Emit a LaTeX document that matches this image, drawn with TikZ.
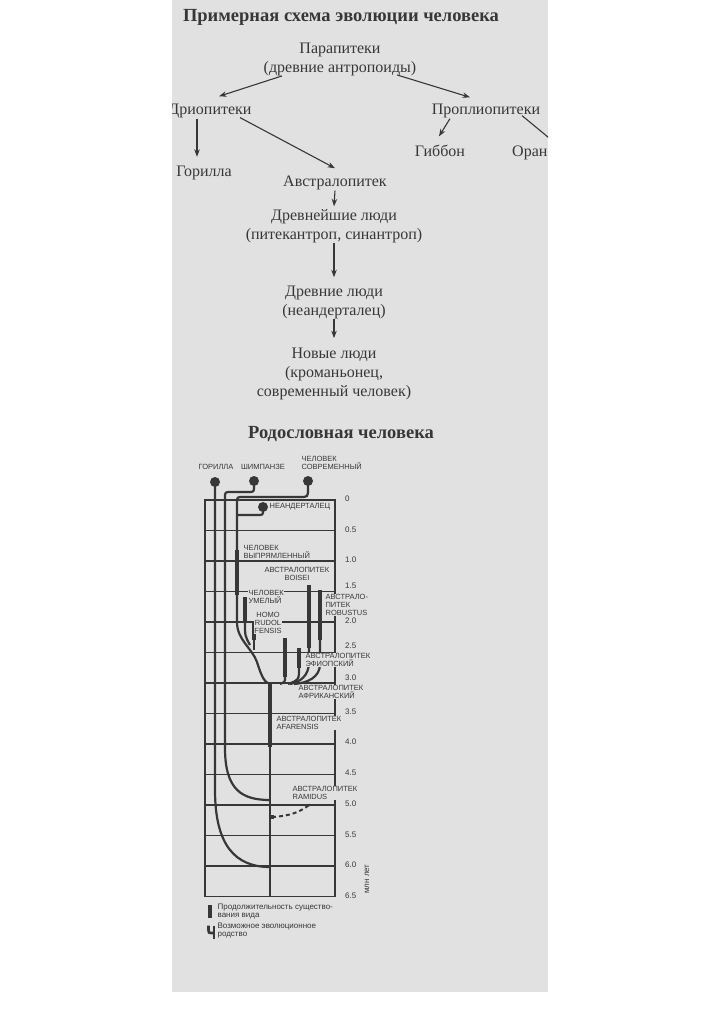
\documentclass[tikz,border=0pt]{standalone}
\usepackage{fontspec}
\setmainfont{Liberation Serif}
\setsansfont{Liberation Sans}
\usetikzlibrary{arrows.meta,positioning,calc}
\definecolor{paper}{RGB}{225,225,225}
\definecolor{ink}{RGB}{55,55,55}
\tikzset{
  arr/.style={draw=ink, line width=1.1pt, -{Stealth[length=7.5pt,width=5.5pt]}},
  txt/.style={text=ink, inner sep=0pt, align=center, font=\fontsize{16}{19}\selectfont},
  ttl/.style={text=ink, inner sep=0pt, anchor=base, font=\fontsize{18.5}{20}\selectfont\bfseries},
  lbl/.style={text=ink, fill=paper, inner sep=0.4pt, align=left, font=\fontsize{7.5}{7.8}\selectfont\sffamily},
  num/.style={text=ink, inner sep=0pt, anchor=west, font=\fontsize{8}{8}\selectfont\sffamily},
  gridline/.style={draw=ink, line width=1.5pt},
  lineage/.style={draw=ink, line width=2.2pt},
  bar/.style={draw=ink, line width=4.6pt},
  dot/.style={circle, fill=ink, minimum size=10pt, inner sep=0pt},
}
\begin{document}
\begin{tikzpicture}[x=1pt,y=-1pt]
  \useasboundingbox (0,0) rectangle (722,1024);
  \fill[white] (0,0) rectangle (722,1024);
  \fill[paper] (172,0) rectangle (548,992);
  \begin{scope}
  \clip (172,0) rectangle (548,992);

  % scheme
  \node[ttl] (title) at (341,22) {Примерная схема эволюции человека};
  \node[txt] (para) at (340,59.3) {Парапитеки\\(древние антропоиды)};
  \node[txt, anchor=base] (drio) at (210,115) {Дриопитеки};
  \node[txt, anchor=base] (propl) at (486,115) {Проплиопитеки};
  \node[txt, anchor=base] (gibbon) at (440,157) {Гиббон};
  \node[txt, anchor=base west] (oran) at (512,157) {Оран};
  \node[txt, anchor=base] (gorilla) at (204,177) {Горилла};
  \node[txt, anchor=base] (austr) at (335,187) {Австралопитек};
  \node[txt] (oldest) at (334,226.2) {Древнейшие люди\\(питекантроп, синантроп)};
  \node[txt] (old) at (334,302.9) {Древние люди\\(неандерталец)};
  \node[txt] (new) at (334,374.3) {Новые люди\\(кроманьонец,\\современный человек)};
  \coordinate (orx) at (560,147);

  \draw[arr] ($(para.south)+(-58,0)$) -- ($(drio.north)+(9,-8)$);
  \draw[arr] ($(para.south)+(57,-1)$) -- ($(propl.north)+(-16,-7)$);
  \draw[arr] ($(drio.south)+(-13,0)$) -- ($(gorilla.north)+(-7,-9.5)$);
  \draw[arr] ($(drio.south)+(30,-1)$) -- ($(austr.north)+(0,-8)$);
  \draw[arr] ($(propl.south)+(-36,0)$) -- ($(gibbon.north)+(-1,-9)$);
  \draw[arr] ($(propl.south)+(36,-3)$) -- (orx);
  \draw[arr] (austr.south) -- ($(oldest.north)+(0,-3)$);
  \draw[arr] (oldest.south) -- ($(old.north)+(0,-9)$);
  \draw[arr] ($(old.south)+(0,-1)$) -- ($(new.north)+(0,-10)$);

  % pedigree
  \node[ttl] (title2) at (341,438) {Родословная человека};
  \foreach \k in {0,...,13}
    \draw[gridline] (205,{500+30.5*\k}) -- (335,{500+30.5*\k});
  \draw[gridline] (205,500) rectangle (335,896.5);
  \draw[gridline] (270,683.5) -- (270,896.5);
  \foreach \k/\t/\dy in {0/0/1,1/0.5/1,2/1.0/1,3/1.5/6,4/2.0/1,5/2.5/7,6/3.0/5,7/3.5/2,8/4.0/2,9/4.5/2,10/5.0/1,11/5.5/1,12/6.0/1,13/6.5/1}
    \node[num] (n\k) at (345,{500-\dy+30.5*\k}) {\t};
  \node[num, anchor=center, rotate=90] (myr) at (367,879) {млн лет};

  \node[dot] (gor) at (215,482) {};
  \node[dot] (chi) at (254,481) {};
  \node[dot] (hum) at (308,481) {};
  \node[dot] (nea) at (263,507) {};
  \draw[lineage] (gor.center) -- (215,790) .. controls (215,845) and (235,867) .. (270,867);
  \draw[lineage] (chi.center) -- (254,486) .. controls (254,492) .. (248,492) -- (231,492)
    .. controls (225,492) .. (225,498) -- (225,748) .. controls (225,790) and (242,800) .. (270,800);
  \draw[lineage] (hum.center) -- (308,488) .. controls (308,497) .. (300,497) -- (243,497)
    .. controls (237,497) .. (237,503) -- (237,622) .. controls (237,640) and (252,648) .. (257,662)
    .. controls (262,678) and (265,684) .. (272,684);
  \draw[lineage] (nea.center) -- (263,510) .. controls (263,515) .. (257,515) -- (237,515);

  \draw[bar] (237,550) -- (237,595);
  \draw[bar] (245,597) -- (245,623);
  \draw[lineage] (245,623) .. controls (245,636) .. (250,645);
  \draw[bar] (254,622) -- (254,640);
  \draw[lineage] (254,640) -- (254,650);
  \draw[bar] (285,638) -- (285,677);
  \draw[lineage] (285,677) .. controls (285,682) .. (280,684);
  \draw[bar] (299,648) -- (299,668);
  \draw[lineage] (299,668) .. controls (299,680) .. (288,684);
  \draw[bar] (309,585) -- (309,648);
  \draw[lineage] (309,648) -- (309,662) .. controls (309,676) and (300,682) .. (290,684);
  \draw[bar] (320,590) -- (320,640);
  \draw[lineage] (320,640) -- (320,664) .. controls (320,677) and (308,683) .. (294,684);
  \draw[bar] (270,684) -- (270,747);
  \draw[draw=ink, line width=2pt, dash pattern=on 4pt off 3pt]
    (272,817) .. controls (290,816) and (300,812) .. (309,805);
  \fill[ink] (270,815) rectangle (274,819);
  \fill[ink] (309,805) circle (1.5);

  \node[lbl] (gorL) at (216,467) {ГОРИЛЛА};
  \node[lbl] (chiL) at (263,467) {ШИМПАНЗЕ};
  \node[lbl, anchor=west] (humL) at (301,463) {ЧЕЛОВЕК\\СОВРЕМЕННЫЙ};
  \node[lbl, anchor=west] (neaL) at (269,507) {НЕАНДЕРТАЛЕЦ};
  \node[lbl, anchor=west] (ereL) at (243,552) {ЧЕЛОВЕК\\ВЫПРЯМЛЕННЫЙ};
  \node[lbl, align=center] (boiL) at (297,574) {АВСТРАЛОПИТЕК\\BOISEI};
  \node[lbl, anchor=west] (habL) at (248,597) {ЧЕЛОВЕК\\УМЕЛЫЙ};
  \node[lbl, align=center] (rudL) at (268,623) {HOMO\\RUDOL\\FENSIS};
  \node[lbl, anchor=west] (robL) at (325,605) {АВСТРАЛО-\\ПИТЕК\\ROBUSTUS};
  \node[lbl, anchor=west] (aetL) at (305,660) {АВСТРАЛОПИТЕК\\ЭФИОПСКИЙ};
  \node[lbl, anchor=west] (afrL) at (298,692) {АВСТРАЛОПИТЕК\\АФРИКАНСКИЙ};
  \node[lbl, anchor=west] (afaL) at (276,723) {АВСТРАЛОПИТЕК\\AFARENSIS};
  \node[lbl, anchor=west] (ramL) at (292,793) {АВСТРАЛОПИТЕК\\RAMIDUS};

  % legend
  \draw[bar] (210,905) -- (210,918);
  \draw[draw=ink, line width=2.6pt] (208.5,925.5) -- (208.5,929) .. controls (208.5,933) .. (213.5,933);
  \draw[draw=ink, line width=2.6pt] (214,925.5) -- (214,938.5);
  \node[lbl, anchor=west, font=\fontsize{8}{8}\selectfont\sffamily] (leg1) at (217,912) {Продолжительность существо-\\вания вида};
  \node[lbl, anchor=west, font=\fontsize{8}{8}\selectfont\sffamily] (leg2) at (217,931) {Возможное эволюционное\\родство};
  \end{scope}
\end{tikzpicture}
\end{document}
